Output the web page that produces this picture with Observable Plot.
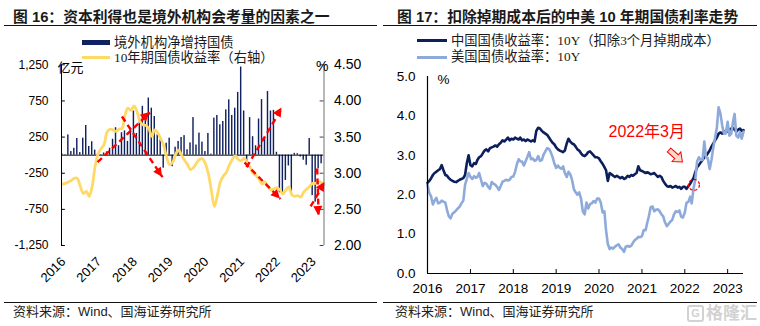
<!DOCTYPE html>
<html><head><meta charset="utf-8">
<script src="https://cdn.jsdelivr.net/npm/d3@7"></script>
<script src="https://cdn.jsdelivr.net/npm/@observablehq/plot@0.6"></script>
<style>
body{margin:0;background:#fff;}
#root{position:relative;width:760px;height:326px;overflow:hidden;background:#fff;font-family:"Liberation Sans","Noto Sans CJK SC",sans-serif;}
.abs{position:absolute;white-space:nowrap;}
.title{font-weight:bold;font-size:14.8px;color:#1a1a1a;top:8px;line-height:18px;}
.rule{position:absolute;height:1.3px;background:#111;}
.src{font-size:13px;color:#222;top:304px;line-height:16px;}
.leg{font-family:"Liberation Serif","Noto Sans CJK SC",serif;font-size:13.3px;color:#1a1a1a;line-height:16px;}
svg{overflow:visible;}
</style></head>
<body>
<div id="root"></div>
<script>
// ---------------- Titles / texts ----------------
const titleLeft = "图 16：资本利得也是境外机构会考量的因素之一";
const titleRight = "图 17：扣除掉期成本后的中美 10 年期国债利率走势";
const sourceText = "资料来源：Wind、国海证券研究所";

// ---------------- Left chart data (monthly, Jan 2016 – Apr 2023) ----------------
const barName = "境外机构净增持国债";
const yieldName = "10年期国债收益率（右轴）";
const barValues = [15,5,280,50,95,230,35,235,410,120,
  185,70,20,5,30,45,95,220,380,130,
  310,335,190,370,610,300,455,675,535,790,
  650,535,280,210,-180,165,235,-160,110,190,
  245,270,75,170,520,140,305,180,50,300,
  14,512,549,420,466,627,765,549,650,868,
  1219,611,-162,519,255,130,500,769,241,880,
  611,620,40,-520,-540,-350,-150,-550,25,20,
  -25,-70,-140,230,-560,-650,-190,-120];
const yieldValues = [2.85,2.86,2.88,2.90,2.93,2.93,2.82,2.72,2.75,2.68,
  2.82,3.10,3.27,3.34,3.40,3.57,3.61,3.60,3.58,3.61,
  3.62,3.80,3.90,3.87,3.93,3.86,3.72,3.67,3.66,3.62,
  3.51,3.60,3.56,3.48,3.38,3.22,3.12,3.15,3.26,3.32,
  3.25,3.18,3.12,3.05,3.08,3.14,3.19,3.20,3.13,2.99,
  2.76,2.54,2.69,2.88,2.96,3.01,3.11,3.19,3.24,3.19,
  3.17,3.21,3.15,3.08,3.00,2.97,2.92,2.85,2.88,2.82,
  2.77,2.78,2.80,2.77,2.71,2.77,2.81,2.70,2.68,2.69,
  2.67,2.74,2.78,2.82,2.86,2.86,2.88,2.87];
const leftTicks = [-1250,-750,-250,250,750,1250];
const leftTickLabels = ["-1,250","-750","-250","250","750","1,250"];
const rightTicks = [2.0,2.5,3.0,3.5,4.0,4.5];
const rightTickLabels = ["2.00","2.50","3.00","3.50","4.00","4.50"];
const leftYears = ["2016","2017","2018","2019","2020","2021","2022","2023"];
const leftUnit = "亿元";
// red dashed annotation arrows (month index, left-axis value)
const arrowsLeft = [
  {x1: 11.8, y1: -98,  x2: 29.4, y2: 590},
  {x1: 20.0, y1: 535,  x2: 33.6, y2: -305},
  {x1: 61.8, y1: -167, x2: 73.7, y2: 652},
  {x1: 61.1, y1: -102, x2: 73.2, y2: -607},
  {x1: 85.5, y1: -185, x2: 86.0, y2: -835},
  {x1: 83.3, y1: -710, x2: 88.1, y2: -378}
];

// ---------------- Right chart data (semi-monthly, Jan 2016 – May 2023) ----------------
const cnName = "中国国债收益率：10Y（扣除3个月掉期成本）";
const usName = "美国国债收益率：10Y";
const cnValues = [
  2.30,2.35,2.42,2.50,2.55,2.58,2.62,2.65,2.75,2.62,2.50,2.48,2.42,2.38,2.35,2.33,2.32,2.35,2.38,2.40,2.42,2.50,2.80,3.00,
  2.75,2.72,2.80,2.78,2.88,2.95,2.98,3.05,3.12,3.15,3.10,3.18,3.20,3.22,3.25,3.22,3.28,3.32,3.38,3.35,3.40,3.45,3.38,3.42,
  3.40,3.45,3.42,3.40,3.45,3.38,3.40,3.36,3.40,3.38,3.35,3.38,3.35,3.62,3.70,3.68,3.62,3.58,3.55,3.52,3.45,3.38,3.32,3.28,
  3.20,3.15,3.12,3.10,3.08,3.12,3.30,3.42,3.35,3.30,3.28,3.22,3.15,3.12,3.05,3.00,2.98,3.02,3.08,3.10,3.05,3.00,2.95,2.95,
  2.92,2.85,2.78,2.70,2.62,2.35,2.55,2.52,2.48,2.45,2.48,2.45,2.42,2.45,2.40,2.42,2.48,2.45,2.50,2.48,2.52,2.55,2.72,2.62,
  2.60,2.58,2.55,2.57,2.55,2.52,2.53,2.55,2.50,2.45,2.48,2.45,2.35,2.28,2.22,2.20,2.22,2.18,2.20,2.22,2.18,2.20,2.15,2.20,
  2.20,2.15,2.22,2.28,2.35,2.42,2.58,2.70,2.75,2.82,2.88,2.95,2.98,3.05,3.12,3.22,3.30,3.38,3.45,3.55,3.58,3.55,3.60,3.62,
  3.60,3.65,3.68,3.70,3.65,3.60,3.65,3.68,3.62,3.64];
const usValues = [
  2.25,2.05,1.95,1.75,1.85,1.92,1.78,1.80,1.85,1.82,1.80,1.60,1.45,1.40,1.52,1.55,1.60,1.65,1.70,1.78,1.85,2.25,2.40,2.55,
  2.45,2.40,2.47,2.43,2.45,2.55,2.38,2.22,2.30,2.28,2.20,2.15,2.32,2.28,2.25,2.20,2.12,2.22,2.33,2.35,2.38,2.36,2.38,2.45,
  2.46,2.58,2.78,2.90,2.85,2.84,2.74,2.85,2.96,3.08,2.90,2.92,2.86,2.88,2.98,2.86,2.88,3.02,3.10,3.18,3.16,3.08,2.96,2.80,
  2.68,2.74,2.68,2.66,2.72,2.55,2.45,2.58,2.52,2.38,2.14,2.06,2.00,2.06,1.90,1.58,1.50,1.80,1.65,1.76,1.78,1.84,1.80,1.90,
  1.90,1.80,1.55,1.58,1.10,0.75,0.62,0.66,0.63,0.68,0.72,0.74,0.66,0.62,0.55,0.68,0.70,0.68,0.70,0.78,0.85,0.88,0.93,0.92,
  0.95,1.10,1.10,1.30,1.45,1.68,1.70,1.58,1.62,1.63,1.58,1.50,1.45,1.30,1.20,1.26,1.32,1.36,1.50,1.58,1.56,1.60,1.44,1.42,
  1.55,1.80,1.82,1.95,1.78,2.15,2.40,2.85,2.95,2.88,2.88,3.35,2.95,2.92,2.65,2.88,3.20,3.45,3.70,4.22,4.05,3.75,3.55,3.55,
  3.85,3.50,3.55,3.85,4.05,3.50,3.45,3.58,3.42,3.60];
const rYTicks = [0,1,2,3,4,5];
const rYTickLabels = ["0.0","1.0","2.0","3.0","4.0","5.0"];
const rYears = [2016,2017,2018,2019,2020,2021,2022,2023];
const noteText = [{date: "2020-03-22", v: 3.59, label: "2022年3月"}];
const noteCircle = [{date: "2022-03-20", v: 2.25}];
const noteBlockArrow = [{date: "2021-10-20", v: 2.97}];

// ---------------- Styles ----------------
const NAVY = "#10215f", YELLOW = "#FFD966", CN = "#0c1f5b", US = "#8eaadb", RED = "#ff0000";
const NUMFONT = "Liberation Sans, Arial, sans-serif";
const NS = "http://www.w3.org/2000/svg";
const root = document.getElementById("root");
function div(cls, style, text) {
  const d = document.createElement("div");
  if (cls) d.className = cls;
  d.setAttribute("style", style);
  if (text != null) d.textContent = text;
  root.appendChild(d);
  return d;
}

// ---------------- Left chart ----------------
const L = {w: 380, h: 270, ml: 61, mr: 56.5, mt: 34.3, mb: 55};
const xDomL = [-0.3, barValues.length - 0.2];
const toLeft = d3.scaleLinear().domain([rightTicks[0], rightTicks[rightTicks.length-1]]).range([leftTicks[0], leftTicks[leftTicks.length-1]]);
const barData = barValues.map((v, i) => ({i, v}));
const yldData = yieldValues.map((v, i) => ({i, v: toLeft(v)}));
const yearData = leftYears.map((t, k) => ({i: k * 12, t}));

const leftChart = Plot.plot({
  width: L.w, height: L.h,
  marginLeft: L.ml, marginRight: L.mr, marginTop: L.mt, marginBottom: L.mb,
  x: {type: "linear", domain: xDomL, axis: null},
  y: {type: "linear", domain: [leftTicks[0], leftTicks[leftTicks.length-1]], axis: null},
  style: {background: "transparent", overflow: "visible"},
  marks: [
    Plot.rect(barData, {x1: d => d.i - 0.24, x2: d => d.i + 0.24, y1: 0, y2: "v", fill: NAVY}),
    Plot.ruleY([0], {stroke: "#000", strokeWidth: 1}),
    Plot.line(yldData, {x: "i", y: "v", stroke: YELLOW, strokeWidth: 2.8, curve: "catmull-rom"}),
    Plot.link(arrowsLeft, {x1: "x1", y1: "y1", x2: "x2", y2: "y2", stroke: RED, strokeWidth: 2.4, strokeDasharray: "6,4"}),
    // left axis
    Plot.ruleX([xDomL[0]], {y1: leftTicks[0], y2: leftTicks[leftTicks.length-1], stroke: "#000"}),
    Plot.ruleY(leftTicks, {x1: xDomL[0], x2: xDomL[0] + 1.3, stroke: "#000"}),
    Plot.text(leftTicks, {x: xDomL[0], y: d => d, text: (d, i) => leftTickLabels[i], textAnchor: "end", dx: -13, fontSize: 12, fontFamily: NUMFONT, fill: "#000"}),
    Plot.text([leftUnit], {x: xDomL[0], y: leftTicks[leftTicks.length-1], text: d => d, textAnchor: "start", dx: -4, dy: 3, fontSize: 13, fontFamily: "Liberation Serif, Noto Sans CJK SC", fill: "#000"}),
    // right axis
    Plot.ruleX([xDomL[1]], {y1: leftTicks[0], y2: leftTicks[leftTicks.length-1], stroke: "#a6a6a6", strokeWidth: 1.6}),
    Plot.ruleY(rightTicks, {y: d => toLeft(d), x1: xDomL[1] - 1.3, x2: xDomL[1], stroke: "#444"}),
    Plot.text(rightTicks, {x: xDomL[1], y: d => toLeft(d), text: (d, i) => rightTickLabels[i], textAnchor: "start", dx: 10, fontSize: 14, fontFamily: NUMFONT, fill: "#000"}),
    Plot.text(["%"], {x: xDomL[1], y: leftTicks[leftTicks.length-1], text: d => d, textAnchor: "end", dx: 4.5, dy: 2, fontSize: 14, fontFamily: NUMFONT, fill: "#000"}),
    // x labels
    Plot.text(yearData, {x: "i", y: leftTicks[0], text: "t", rotate: -45, textAnchor: "end", dx: 1, dy: 14, fontSize: 13, fontFamily: NUMFONT, fill: "#000"})
  ]
});

// ---------------- Right chart ----------------
const R = {w: 380, h: 270, ml: 47, mr: 17, mt: 46, mb: 27};
const halfMonth = k => new Date(Date.UTC(2016, Math.floor(k / 2), k % 2 ? 16 : 1));
const cnData = cnValues.map((v, k) => ({date: halfMonth(k), v}));
const usData = usValues.map((v, k) => ({date: halfMonth(k), v}));
const xDomR = [cnData[0].date, cnData[cnData.length - 1].date];
const yearDates = rYears.map(y => new Date(Date.UTC(y, 0, 1)));
const parse = s => new Date(s + "T00:00:00Z");

const rightChart = Plot.plot({
  width: R.w, height: R.h,
  marginLeft: R.ml, marginRight: R.mr, marginTop: R.mt, marginBottom: R.mb,
  x: {type: "utc", domain: xDomR, axis: null},
  y: {type: "linear", domain: [rYTicks[0], rYTicks[rYTicks.length-1]], axis: null},
  style: {background: "transparent", overflow: "visible"},
  marks: [
    Plot.line(cnData, {x: "date", y: "v", stroke: CN, strokeWidth: 2.6}),
    Plot.line(usData, {x: "date", y: "v", stroke: US, strokeWidth: 2.6}),
    Plot.ruleY([rYTicks[0]], {stroke: "#000", strokeWidth: 1.2}),
    Plot.ruleX([xDomR[0]], {y1: rYTicks[0], y2: rYTicks[rYTicks.length-1], stroke: "#000", strokeWidth: 1.2}),
    Plot.ruleX(yearDates, {y1: 0, y2: 0.1, stroke: "#000"}),
    Plot.text(rYTicks, {x: xDomR[0], y: d => d, text: (d, i) => rYTickLabels[i], textAnchor: "end", dx: -12, fontSize: 13.5, fontFamily: NUMFONT, fill: "#000"}),
    Plot.text(yearDates, {x: d => d, y: 0, text: (d, i) => String(rYears[i]), dy: 15, fontSize: 13.5, fontFamily: NUMFONT, fill: "#000"}),
    Plot.text(["%"], {x: xDomR[0], y: rYTicks[rYTicks.length-1], text: d => d, textAnchor: "start", dx: 10, dy: 3, fontSize: 13.5, fontFamily: NUMFONT, fill: "#000"}),
    Plot.text(noteText, {x: d => parse(d.date), y: "v", text: "label", textAnchor: "start", fontSize: 16, fontFamily: "Liberation Sans, Noto Sans CJK SC", fill: RED}),
    Plot.dot(noteCircle, {x: d => parse(d.date), y: "v", r: 5.5, stroke: RED, strokeWidth: 1.2, strokeDasharray: "3,2", fill: "none"})
  ]
});

// ---------------- Mount ----------------
function mount(chart, left, top) {
  const wrap = div("abs", `left:${left}px;top:${top}px;width:380px;height:270px;`);
  wrap.appendChild(chart);
  return wrap;
}
mount(leftChart, 0, 30);
mount(rightChart, 380, 30);

function scaleFn(chart, name, dom, range, isTime) {
  try { const s = chart.scale(name); if (s && s.apply) return v => s.apply(v); } catch (e) {}
  const s = (isTime ? d3.scaleUtc() : d3.scaleLinear()).domain(dom).range(range);
  return v => s(v);
}
// filled arrowheads for the left dashed arrows
{
  const sx = scaleFn(leftChart, "x", xDomL, [L.ml, L.w - L.mr]);
  const sy = scaleFn(leftChart, "y", [leftTicks[0], leftTicks[leftTicks.length-1]], [L.h - L.mb, L.mt]);
  const svg = leftChart.tagName.toLowerCase() === "svg" ? leftChart : leftChart.querySelector("svg");
  const g = document.createElementNS(NS, "g");
  for (const a of arrowsLeft) {
    const x1 = sx(a.x1), y1 = sy(a.y1), x2 = sx(a.x2), y2 = sy(a.y2);
    const ang = Math.atan2(y2 - y1, x2 - x1);
    const len = 9, w = 4.6;
    const bx = x2 - len * Math.cos(ang), by = y2 - len * Math.sin(ang);
    const px = -Math.sin(ang) * w, py = Math.cos(ang) * w;
    const p = document.createElementNS(NS, "polygon");
    p.setAttribute("points", `${x2},${y2} ${bx + px},${by + py} ${bx - px},${by - py}`);
    p.setAttribute("fill", RED);
    g.appendChild(p);
  }
  svg.appendChild(g);
}
// block arrow in right chart
{
  const sx = scaleFn(rightChart, "x", xDomR, [R.ml, R.w - R.mr], true);
  const sy = scaleFn(rightChart, "y", [0, 5], [R.h - R.mb, R.mt]);
  const svg = rightChart.tagName.toLowerCase() === "svg" ? rightChart : rightChart.querySelector("svg");
  for (const b of noteBlockArrow) {
    const cx = sx(parse(b.date)), cy = sy(b.v);
    const p = document.createElementNS(NS, "path");
    p.setAttribute("d", "M-9,-2.6L1,-2.6L1,-6.5L9,0L1,6.5L1,2.6L-9,2.6Z");
    p.setAttribute("transform", `translate(${cx},${cy}) rotate(42)`);
    p.setAttribute("fill", "#fbd9cb");
    p.setAttribute("stroke", RED);
    p.setAttribute("stroke-width", "1");
    svg.appendChild(p);
  }
}

// ---------------- HTML furniture ----------------
div("abs title", "left:13px;", titleLeft);
div("abs title", "left:397px;", titleRight);
div("rule", "left:4px;width:373px;top:25px;");
div("rule", "left:383px;width:374px;top:25px;");
div("rule", "left:4px;width:373px;top:301.5px;");
div("rule", "left:383px;width:374px;top:301.5px;");
div("abs src", "left:13px;", sourceText);
div("abs src", "left:395px;", sourceText);

// legends
div("abs", `left:82px;top:40px;width:28px;height:5px;background:${NAVY};`);
div("abs leg", "left:114px;top:34.5px;", barName);
div("abs", `left:82px;top:56px;width:28px;height:3px;background:${YELLOW};`);
div("abs leg", "left:114px;top:49.5px;", yieldName);
div("abs", `left:417px;top:39.3px;width:30px;height:3px;background:${CN};`);
div("abs leg", "left:451px;top:32.7px;", cnName);
div("abs", `left:417px;top:55.5px;width:30px;height:3px;background:${US};`);
div("abs leg", "left:451px;top:49px;", usName);

// watermark
div("abs", "left:687px;top:305px;width:13px;height:13px;border:2px solid #d2d2d2;border-radius:3px;color:#d2d2d2;font:bold 11px 'Liberation Sans';text-align:center;line-height:13px;", "G");
div("abs", "left:706px;top:302px;font-size:17px;font-weight:bold;color:#d2d2d2;line-height:20px;font-family:'Noto Sans CJK SC';", "格隆汇");
</script>
</body></html>
